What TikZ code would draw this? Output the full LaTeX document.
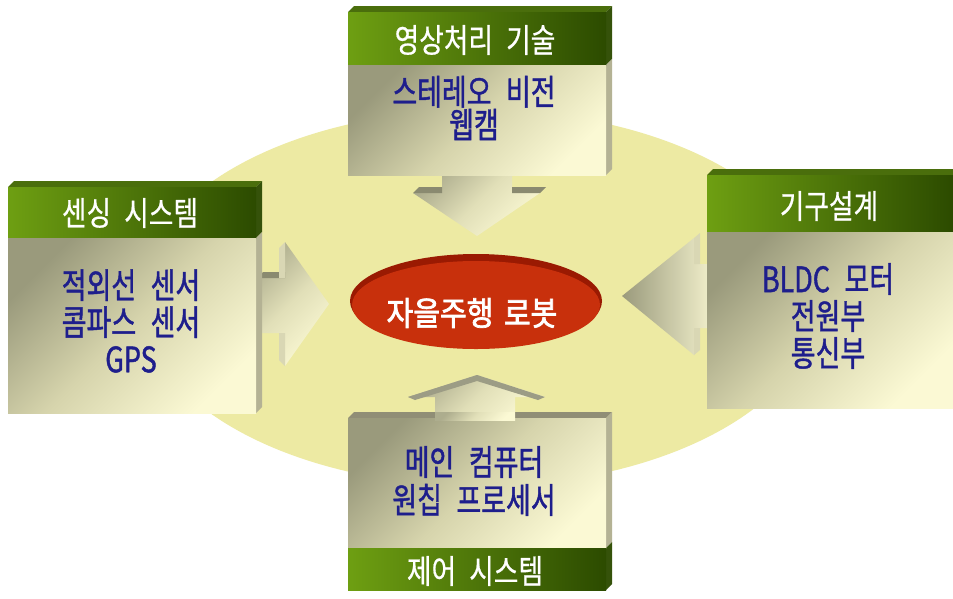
\documentclass[tikz,border=0pt]{standalone}
\usepackage{fontspec}
\usetikzlibrary{shapes.geometric}
\newfontfamily\krhead[FakeStretch=0.81,FakeBold=0.6,WordSpace=2.2]{Noto Sans CJK KR}
\newfontfamily\krbody[FakeStretch=0.77,FakeBold=1.2,WordSpace=2.4]{Noto Sans CJK KR}
\newfontfamily\krbold[FakeStretch=0.88,FakeBold=2.2,WordSpace=1.6]{Noto Sans CJK KR}
\definecolor{bodydark}{HTML}{9A9A7C}
\definecolor{bodymid}{HTML}{D6D4AC}
\definecolor{bodylight}{HTML}{FBF9D4}
\definecolor{hdrleft}{HTML}{6E9F12}
\definecolor{hdrright}{HTML}{2C4B00}
\definecolor{hdrtop}{HTML}{4A6E0C}
\definecolor{hdrside}{HTML}{35520A}
\definecolor{bodyside}{HTML}{B4B294}
\definecolor{stripdark}{HTML}{8A8A70}
\definecolor{striplight}{HTML}{D9D7B4}
\definecolor{bigyellow}{HTML}{EDEAA3}
\definecolor{redmain}{HTML}{C8300C}
\definecolor{reddark}{HTML}{9A1A02}
\definecolor{navy}{HTML}{1E1E8C}
\tikzset{
  hdrtext/.style={text=white, font=\krhead\fontsize{33}{36}\selectfont, inner sep=0pt},
  bodytext/.style={text=navy, font=\krbody\fontsize{35}{37}\selectfont, align=center, inner sep=0pt},
  bodyfill/.style={top color=bodydark, bottom color=bodylight, middle color=bodymid, shading angle=45},
  hdrfill/.style={left color=hdrleft, right color=hdrright},
  arrowfill/.style={top color=bodydark!80!bodylight, bottom color=bodylight, middle color=bodymid!70!bodylight, shading angle=45}
}
\begin{document}
\begin{tikzpicture}[x=1pt,y=-1pt]
\useasboundingbox (0,0) rectangle (953,598);
\fill[white] (0,0) rectangle (953,598);
% big background ellipse
\fill[bigyellow] (479,298) ellipse [x radius=340pt, y radius=188pt];

% ---------- arrows ----------
% top arrow (down)
\path[arrowfill] (442,170) -- (512,170) -- (512,193) -- (540,193) -- (477,236) -- (413,193) -- (442,193) -- cycle;
\fill[stripdark] (413,193) -- (419,187) -- (442,187) -- (442,193) -- cycle;
\fill[stripdark] (512,187) -- (546,187) -- (540,193) -- (512,193) -- cycle;
% left arrow (right)
\path[arrowfill] (250,278) -- (285,278) -- (285,242) -- (329,304) -- (285,366) -- (285,333) -- (250,333) -- cycle;
\fill[stripdark] (257,278) -- (263,272) -- (285,272) -- (285,278) -- cycle;
\fill[striplight] (279,248) -- (285,242) -- (285,278) -- (279,278) -- cycle;
\fill[striplight] (279,333) -- (285,333) -- (285,366) -- (279,360) -- cycle;
% right arrow (left)
\path[top color=bodydark, bottom color=bodylight!90!bodydark, shading angle=90] (712,264) -- (694,264) -- (694,238) -- (622,296) -- (694,355) -- (694,328) -- (712,328) -- cycle;
\fill[striplight] (694,238) -- (700,233) -- (700,264) -- (694,264) -- cycle;
\fill[striplight] (694,328) -- (700,328) -- (700,350) -- (694,355) -- cycle;
% bottom arrow (up)
\path[arrowfill] (435,420) -- (435,397) -- (408,397) -- (477,375) -- (545,397) -- (515,397) -- (515,420) -- cycle;
\fill[stripdark!85!white] (408,397) -- (477,375) -- (545,397) -- (538,400) -- (477,381) -- (415,400) -- cycle;

% ---------- central ellipse ----------
\fill[reddark] (476,301) ellipse [x radius=126pt, y radius=47pt];
\fill[redmain] (476,305) ellipse [x radius=124pt, y radius=44pt];
\node[ellipse, minimum width=248pt, minimum height=88pt, inner sep=0pt] (goal) at (476,305) {};
\node[text=white, font=\krbold\fontsize{33}{36}\selectfont, inner sep=0pt] (goalt) at (472,313) {자을주행 로봇};

% ---------- top box ----------
\fill[hdrtop] (348,12) -- (354,6) -- (612,6) -- (606,12) -- cycle;
\fill[hdrside] (606,12) -- (612,6) -- (612,59) -- (606,65) -- cycle;
\fill[bodyside] (606,65) -- (612,59) -- (612,169) -- (606,175) -- cycle;
\shade[hdrfill] (348,12) rectangle (606,65);
\shade[bodyfill] (348,65) rectangle (606,175);
\node[hdrtext] (th) at (475,40) {영상처리 기술};
\node[bodytext, font=\krbody\fontsize{35}{33}\selectfont] (tb) at (474,108) {스테레오 비전\\웹캠};

% ---------- left box ----------
\fill[hdrtop] (8,187) -- (14,181) -- (262,181) -- (256,187) -- cycle;
\fill[hdrside] (256,187) -- (262,181) -- (262,232) -- (256,238) -- cycle;
\fill[bodyside] (256,238) -- (262,232) -- (262,407) -- (256,413) -- cycle;
\shade[hdrfill] (8,187) rectangle (256,238);
\shade[bodyfill] (8,238) rectangle (256,413);
\node[hdrtext] (lh) at (130,213) {센싱 시스템};
\node[bodytext] (lb) at (131,321) {적외선 센서\\콤파스 센서\\GPS};

% ---------- right box ----------
\fill[hdrtop] (707,175) -- (713,169) -- (953,169) -- (953,175) -- cycle;
\shade[hdrfill] (707,175) rectangle (953,232);
\shade[bodyfill] (707,232) rectangle (953,408);
\node[hdrtext] (rh) at (829,206) {기구설계};
\node[bodytext] (rb) at (828,316) {BLDC 모터\\전원부\\통신부};

% ---------- bottom box ----------
\fill[bodyside!80!black] (348,418) -- (354,412) -- (612,412) -- (606,418) -- cycle;
\fill[bodyside] (606,418) -- (612,412) -- (612,542) -- (606,548) -- cycle;
\fill[hdrside] (606,548) -- (612,542) -- (612,584) -- (606,590) -- cycle;
\shade[bodyfill] (348,418) rectangle (606,548);
\shade[hdrfill] (348,548) rectangle (606,590);
\path[arrowfill] (435,412) rectangle (515,420);
\node[hdrtext] (bh) at (475,571) {제어 시스템};
\node[bodytext, font=\krbody\fontsize{35}{38}\selectfont] (bb) at (474,481) {메인 컴퓨터\\원칩 프로세서};
\end{tikzpicture}
\end{document}
